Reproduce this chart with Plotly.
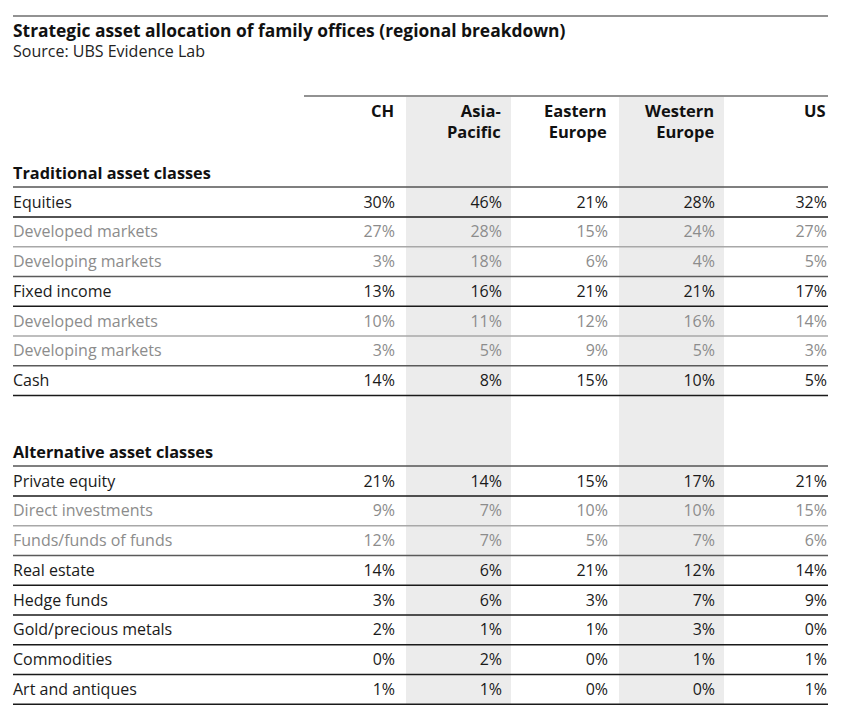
import plotly.graph_objects as go

# ---------------- data ----------------
title = "Strategic asset allocation of family offices (regional breakdown)"
source = "Source: UBS Evidence Lab"
regions = ["CH", "Asia-<br>Pacific", "Eastern<br>Europe", "Western<br>Europe", "US"]

section1 = "Traditional asset classes"
labels1 = ["Equities", "Developed markets", "Developing markets", "Fixed income",
           "Developed markets", "Developing markets", "Cash"]
is_sub1 = [False, True, True, False, True, True, False]
ch1 = [30, 27, 3, 13, 10, 3, 14]
ap1 = [46, 28, 18, 16, 11, 5, 8]
ee1 = [21, 15, 6, 21, 12, 9, 15]
we1 = [28, 24, 4, 21, 16, 5, 10]
us1 = [32, 27, 5, 17, 14, 3, 5]

section2 = "Alternative asset classes"
labels2 = ["Private equity", "Direct investments", "Funds/funds of funds", "Real estate",
           "Hedge funds", "Gold/precious metals", "Commodities", "Art and antiques"]
is_sub2 = [False, True, True, False, False, False, False, False]
ch2 = [21, 9, 12, 14, 3, 2, 0, 1]
ap2 = [14, 7, 7, 6, 6, 1, 2, 1]
ee2 = [15, 10, 5, 21, 3, 1, 0, 0]
we2 = [17, 10, 7, 12, 7, 3, 1, 0]
us2 = [21, 15, 6, 14, 9, 0, 1, 1]

# ---------------- layout constants (page pixels) ----------------
PAGE_W, PAGE_H = 847, 726
BODY_MARGIN = 8          # browser default body margin
W, H = PAGE_W - 2 * BODY_MARGIN, PAGE_H - 2 * BODY_MARGIN
LEFT, RIGHT = 13, 828
ANNO_LEFT = LEFT - 2     # annotations carry a small inner padding
COL_RIGHT = [395, 502, 608, 715, 827]
SHADED = [1, 3]
PITCH = 29.75
TEXT_DY = 1.5
SEC1_Y, SEC2_Y = 173, 452
FONT = "Open Sans"
MAIN_C, SUB_C = "#1a1a1a", "#8c8c8c"
BODY_SIZE = 16

fig = go.Figure()
shapes, annos = [], []

# shaded column bands
for ci in SHADED:
    shapes.append(dict(type="rect", xref="x", yref="y", x0=COL_RIGHT[ci - 1] + 11, x1=COL_RIGHT[ci] + 9,
                       y0=97, y1=704, fillcolor="#ececec", line_width=0, layer="below"))

# top rule and header rule
shapes.append(dict(type="line", xref="x", yref="y", x0=LEFT, x1=RIGHT, y0=16, y1=16,
                   line=dict(color="#6e6e6e", width=1.5)))
shapes.append(dict(type="line", xref="x", yref="y", x0=304, x1=RIGHT, y0=96, y1=96,
                   line=dict(color="#6e6e6e", width=1.5)))

annos.append(dict(x=ANNO_LEFT, y=30, xref="x", yref="y", xanchor="left", yanchor="middle", showarrow=False,
                  text="<b>" + title + "</b>", font=dict(family=FONT, size=17.4, color="#111")))
annos.append(dict(x=ANNO_LEFT, y=51, xref="x", yref="y", xanchor="left", yanchor="middle", showarrow=False,
                  text=source, font=dict(family=FONT, size=16, color="#222")))

for ci, r in enumerate(regions):
    annos.append(dict(x=COL_RIGHT[ci] + 1, y=97, xref="x", yref="y", xanchor="right", yanchor="top",
                      align="right", showarrow=False, text="<b>" + r + "</b>",
                      font=dict(family=FONT, size=16.5, color="#111")))


def add_section(sec_title, sec_y, labels, is_sub, cols):
    annos.append(dict(x=ANNO_LEFT, y=sec_y, xref="x", yref="y", xanchor="left", yanchor="middle",
                      showarrow=False, text="<b>" + sec_title + "</b>",
                      font=dict(family=FONT, size=16.3, color="#111")))
    shapes.append(dict(type="line", xref="x", yref="y", x0=LEFT, x1=RIGHT, y0=sec_y + 14, y1=sec_y + 14,
                       line=dict(color="#555", width=1.4)))
    ys = [sec_y + 29 + i * PITCH for i in range(len(labels))]
    ty = [y + TEXT_DY for y in ys]
    colors = [SUB_C if s else MAIN_C for s in is_sub]
    fig.add_trace(go.Scatter(x=[LEFT] * len(labels), y=ty, mode="text", text=labels,
                             textposition="middle right",
                             textfont=dict(family=FONT, size=BODY_SIZE, color=colors),
                             hoverinfo="skip", showlegend=False))
    for ci, vals in enumerate(cols):
        fig.add_trace(go.Scatter(x=[COL_RIGHT[ci]] * len(vals), y=ty, mode="text",
                                 text=[f"{v}%" for v in vals], textposition="middle left",
                                 textfont=dict(family=FONT, size=BODY_SIZE, color=colors),
                                 hoverinfo="skip", showlegend=False))
    for i, y in enumerate(ys):
        nxt_sub = is_sub[i + 1] if i + 1 < len(is_sub) else False
        if not is_sub[i]:
            col = "#1a1a1a"
        elif nxt_sub:
            col = "#a8a8a8"
        else:
            col = "#5a5a5a"
        shapes.append(dict(type="line", xref="x", yref="y", x0=LEFT, x1=RIGHT,
                           y0=y + 15, y1=y + 15, line=dict(color=col, width=1.3)))


add_section(section1, SEC1_Y, labels1, is_sub1, [ch1, ap1, ee1, we1, us1])
add_section(section2, SEC2_Y, labels2, is_sub2, [ch2, ap2, ee2, we2, us2])

fig.update_layout(
    width=W, height=H, margin=dict(l=0, r=0, t=0, b=0),
    paper_bgcolor="white", plot_bgcolor="white",
    xaxis=dict(range=[BODY_MARGIN, BODY_MARGIN + W], visible=False, fixedrange=True),
    yaxis=dict(range=[BODY_MARGIN + H, BODY_MARGIN], visible=False, fixedrange=True),
    shapes=shapes, annotations=annos, showlegend=False,
)
fig.write_html("out.html")
